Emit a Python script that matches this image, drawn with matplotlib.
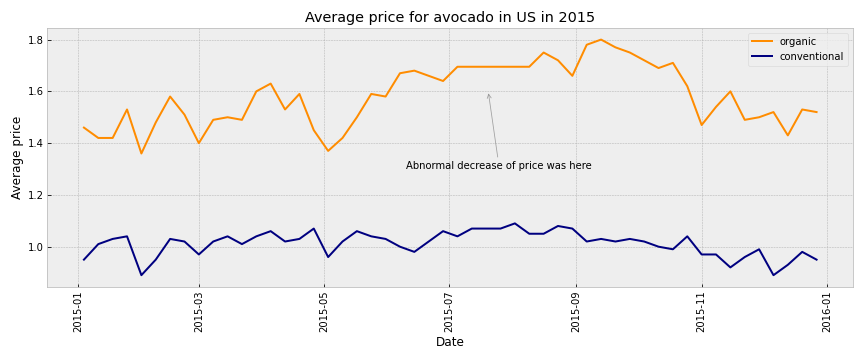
import numpy as np
import pandas as pd
import matplotlib
matplotlib.use('Agg')
import matplotlib.pyplot as plt

# weekly dates for 2015
dates = pd.date_range('2015-01-04', '2015-12-27', freq='7D')

organic = [1.46, 1.42, 1.42, 1.53, 1.36, 1.48, 1.58, 1.51, 1.40, 1.49,
           1.50, 1.49, 1.60, 1.63, 1.53, 1.59, 1.45, 1.37, 1.42, 1.50,
           1.59, 1.58, 1.67, 1.68, 1.66, 1.64, 1.695, 1.695, 1.695, 1.695,
           1.695, 1.695, 1.75, 1.72, 1.66, 1.78, 1.80, 1.77, 1.75, 1.72,
           1.69, 1.71, 1.62, 1.47, 1.54, 1.60, 1.49, 1.50, 1.52, 1.43,
           1.53, 1.52]

conventional = [0.95, 1.01, 1.03, 1.04, 0.89, 0.95, 1.03, 1.02, 0.97, 1.02,
                1.04, 1.01, 1.04, 1.06, 1.02, 1.03, 1.07, 0.96, 1.02, 1.06,
                1.04, 1.03, 1.00, 0.98, 1.02, 1.06, 1.04, 1.07, 1.07, 1.07,
                1.09, 1.05, 1.05, 1.08, 1.07, 1.02, 1.03, 1.02, 1.03, 1.02,
                1.00, 0.99, 1.04, 0.97, 0.97, 0.92, 0.96, 0.99, 0.89, 0.93,
                0.98, 0.95]

plt.style.use('bmh')
fig = plt.figure(figsize=(12, 5), dpi=72)
ax = plt.subplot(111)
plt.plot(dates, organic, color='darkorange', label='organic')
plt.plot(dates, conventional, color='navy', label='conventional')
plt.annotate('Abnormal decrease of price was here',
             xy=(pd.Timestamp('2015-07-20'), 1.6),
             xytext=(pd.Timestamp('2015-06-10'), 1.3),
             arrowprops=dict(arrowstyle='->', color='grey', alpha=0.7, lw=0.8))
plt.title('Average price for avocado in US in 2015')
plt.xlabel('Date')
plt.ylabel('Average price')
plt.xticks(rotation=90)
plt.legend(loc='upper right')
plt.tight_layout()
fig.savefig('out.png', dpi=72)
